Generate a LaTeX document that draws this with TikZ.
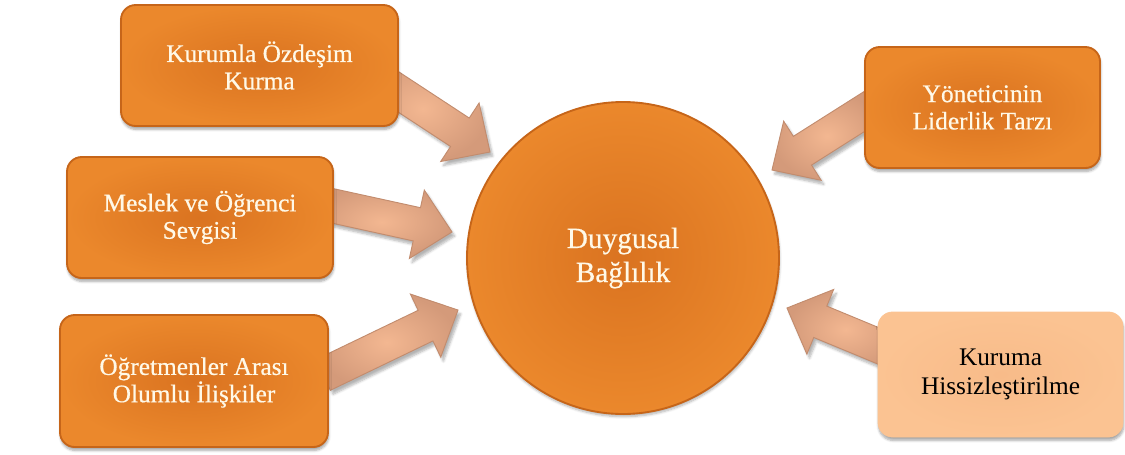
\documentclass[tikz,border=0pt]{standalone}
\usepackage{fontspec}
\setmainfont{Liberation Serif}
\newfontfamily\heavyserif{Liberation Serif}[FakeBold=0.5]
\usetikzlibrary{calc,shadows.blur}

\definecolor{boxorange}{RGB}{235,136,44}
\definecolor{boxcore}{RGB}{218,115,32}
\definecolor{boxedge}{RGB}{198,101,25}
\definecolor{labelcream}{RGB}{255,249,232}
\definecolor{peach}{RGB}{251,195,146}
\definecolor{peachcore}{RGB}{248,187,137}
\definecolor{arrowlight}{RGB}{243,183,145}
\definecolor{arrowdark}{RGB}{212,154,122}
\definecolor{arrowedge}{RGB}{194,140,110}

\tikzset{
  factorbox/.style={rounded corners=11pt, align=center, inner sep=0pt,
    blur shadow={shadow xshift=0.5pt, shadow yshift=-2.5pt, shadow opacity=35, shadow blur steps=6}},
  orangebox/.style={factorbox, draw=boxedge, line width=1.4pt,
    inner color=boxcore, outer color=boxorange, text=labelcream,
    font=\heavyserif\fontsize{19}{20.5}\selectfont},
  peachbox/.style={factorbox, draw=peach, line width=0.6pt,
    inner color=peachcore, outer color=peach, text=black,
    font=\fontsize{19}{21.5}\selectfont},
  hub/.style={circle, draw=boxedge, line width=1.4pt, inner sep=0pt,
    minimum size=234pt, inner color=boxcore, outer color=boxorange,
    text=labelcream, align=center, font=\heavyserif\fontsize{22}{25.5}\selectfont,
    blur shadow={shadow xshift=0.5pt, shadow yshift=-2pt, shadow opacity=30, shadow blur steps=6}},
  blockarrow/.style={draw=arrowedge, line width=0.7pt, line join=miter,
    inner color=arrowlight, outer color=arrowdark,
    blur shadow={shadow xshift=2pt, shadow yshift=-3pt, shadow opacity=30,
      shadow blur steps=6}}
}

% block arrow from a tail coordinate to a tip coordinate
\newcommand{\influence}[2]{%
  \coordinate (#1-base) at ($(#2)!27pt!(#1)$);
  \path[blockarrow]
    ($(#1)!12.75pt!90:(#2)$) -- ($(#1-base)!12.75pt!90:(#2)$)
    -- ($(#1-base)!26.25pt!90:(#2)$) -- (#2)
    -- ($(#1-base)!26.25pt!-90:(#2)$) -- ($(#1-base)!12.75pt!-90:(#2)$)
    -- ($(#1)!12.75pt!-90:(#2)$) -- cycle;
}

\begin{document}
\begin{tikzpicture}[x=0.75pt, y=-0.75pt]
  \useasboundingbox (0,0) rectangle (1125,454);

  % arrow tails (under the boxes) and tips (near the circle)
  \coordinate (t1) at (365,70);   \coordinate (p1) at (490,152);
  \coordinate (t2) at (315,202);  \coordinate (p2) at (452,232);
  \coordinate (t3) at (323,375);  \coordinate (p3) at (458,310);
  \coordinate (t4) at (873,106);  \coordinate (p4) at (772,170);
  \coordinate (t5) at (898,354);  \coordinate (p5) at (787,308);

  \influence{t1}{p1}
  \influence{t2}{p2}
  \influence{t3}{p3}
  \influence{t4}{p4}
  \influence{t5}{p5}

  \node[hub] (core) at (623,258) {Duygusal\\Bağlılık};

  \node[orangebox, minimum width=207.75pt, minimum height=90.75pt]
    (kurum) at (259.5,65.5) {Kurumla Özdeşim\\Kurma};
  \node[orangebox, minimum width=199.5pt, minimum height=90.75pt]
    (meslek) at (200,217.5) {Meslek ve Öğrenci\\Sevgisi};
  \node[orangebox, minimum width=201pt, minimum height=99pt]
    (iliski) at (194,381) {Öğretmenler Arası\\Olumlu İlişkiler};
  \node[orangebox, minimum width=176.25pt, minimum height=90.75pt]
    (lider) at (982.5,107.5) {Yöneticinin\\Liderlik Tarzı};
  \node[peachbox, minimum width=183.75pt, minimum height=93.75pt]
    (hissiz) at (1000.5,374.5) {Kuruma\\Hissizleştirilme};
\end{tikzpicture}
\end{document}
